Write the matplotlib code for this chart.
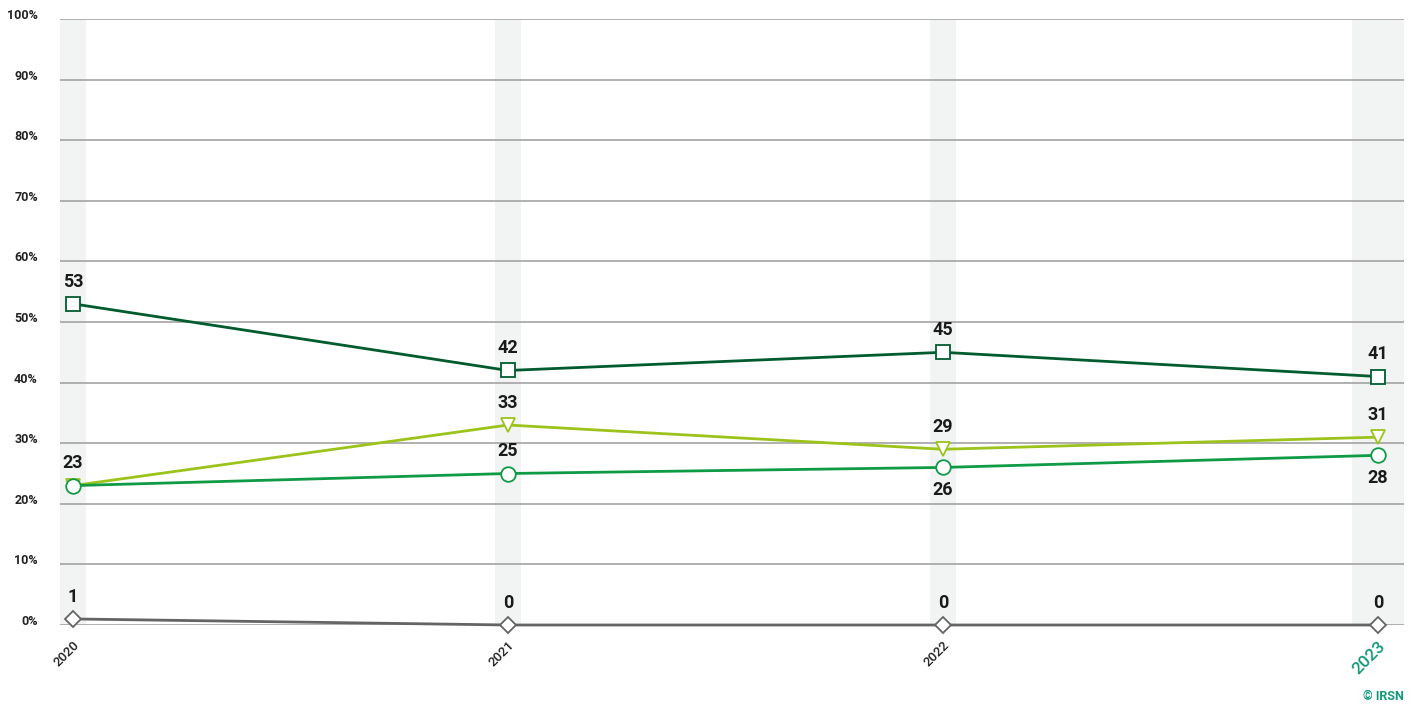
import matplotlib.pyplot as plt

plt.rcParams['font.family'] = ['Roboto', 'DejaVu Sans']

# data
years = ['2020', '2021', '2022', '2023']
dark_vals = [53, 42, 45, 41]
light_vals = [23, 33, 29, 31]
mid_vals = [23, 25, 26, 28]
grey_vals = [1, 0, 0, 0]
y_ticks = [0, 10, 20, 30, 40, 50, 60, 70, 80, 90, 100]

# label placement per series (None = no label)
mid_pos = [None, 'above', 'below', 'below']

x = list(range(len(years)))

fig = plt.figure(figsize=(14.13, 7.10), dpi=100)
ax = fig.add_axes([60 / 1413, 85 / 710, 1344 / 1413, 606 / 710])

xmax = (1404 - 73) / 435
ax.set_xlim(-13 / 435, xmax)
ax.set_ylim(0, 100)

# shaded bands behind each year (last one is wider, runs to the edge)
w = 13 / 435
for i in x:
    if i < len(x) - 1:
        ax.axvspan(i - w, i + w, color='#f2f4f3', zorder=0, lw=0)
    else:
        ax.axvspan(i - 2 * w, xmax, color='#f2f4f3', zorder=0, lw=0)

# grid lines
for t in y_ticks:
    ax.axhline(t, color='#a3a3a3', lw=1.2, zorder=1)

series = [
    (dark_vals, '#005c2e', 's', ['above'] * 4),
    (light_vals, '#9cc31b', 'v', ['above'] * 4),
    (mid_vals, '#0f9a45', 'o', mid_pos),
    (grey_vals, '#646464', 'D', ['above'] * 4),
]

for vals, col, mk, pos in series:
    ms = 10.5 if mk != 'D' else 8.5
    ax.plot(x, vals, color=col, lw=2, marker=mk, markersize=ms,
            markerfacecolor='white', markeredgecolor=col, markeredgewidth=1.3,
            zorder=3, clip_on=False)
    for xi, v, p in zip(x, vals, pos):
        if p is None:
            continue
        off = 16 if p == 'above' else -16
        ax.annotate(str(v), (xi, v), xytext=(0, off), textcoords='offset points',
                    ha='center', va='center', fontsize=13, fontweight='semibold',
                    color='#1a1a1a', zorder=4)

ax.set_yticks(y_ticks)
ax.set_yticklabels([f'{t}%' for t in y_ticks], fontsize=9, fontweight='bold', color='#222222')
# y labels sit just above their grid lines
for tk in ax.yaxis.get_major_ticks():
    tk.label1.set_verticalalignment('baseline')

ax.set_xticks(x)
ax.set_xticklabels(years, rotation=45, ha='right', rotation_mode='anchor', fontsize=9.5,
                   fontweight='medium', color='#222222')
lbls = ax.get_xticklabels()
lbls[-1].set_color('#139a7a')
lbls[-1].set_fontsize(12.5)
ax.tick_params(axis='both', length=0)
ax.tick_params(axis='y', pad=16)
ax.tick_params(axis='x', pad=10)

for s in ax.spines.values():
    s.set_visible(False)

fig.text(1404 / 1413, 7 / 710, '© IRSN', ha='right', va='bottom', fontsize=9,
         fontweight='bold', color='#139a7a')

fig.savefig('out.png', dpi=100)
